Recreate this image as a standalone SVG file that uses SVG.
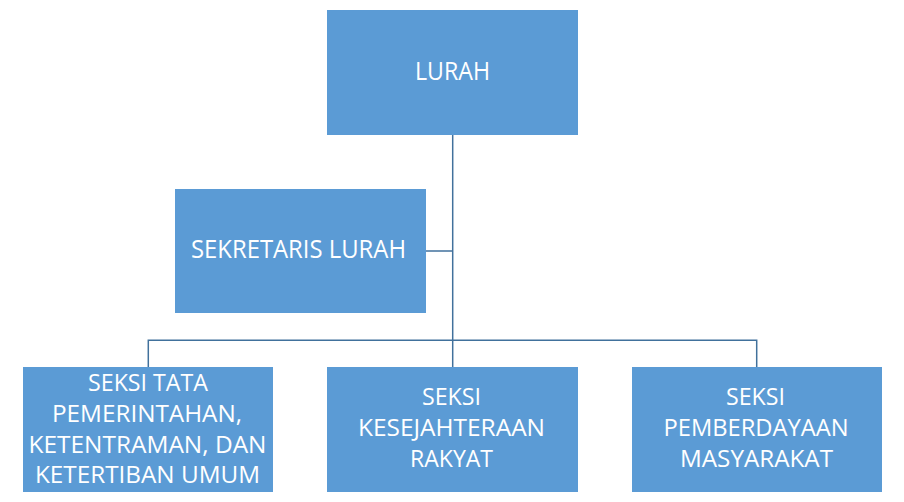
<svg xmlns="http://www.w3.org/2000/svg" width="904" height="502" viewBox="0 0 904 502">
<style>
.box{fill:#5B9BD5;}
.t{fill:#ffffff;font-family:"Open Sans","Liberation Sans",sans-serif;font-size:24px;text-anchor:middle;}
.c{stroke:#41719C;stroke-width:1.5;fill:none;}
</style>
<rect width="904" height="502" fill="#ffffff"/>
<g id="connectors">
<path class="c" d="M452.7 135 V367"/>
<path class="c" d="M426 251 H452.7"/>
<path class="c" d="M148.3 367 V340.3 H756.7 V367"/>
</g>
<g id="lurah">
<rect class="box" x="327" y="10" width="251" height="125"/>
<text class="t" x="452.5" y="80" textLength="75" lengthAdjust="spacingAndGlyphs" style="font-size:25px">LURAH</text>
</g>
<g id="sekretaris">
<rect class="box" x="175" y="189" width="251" height="124"/>
<text class="t" x="298.5" y="258" textLength="215" lengthAdjust="spacingAndGlyphs" style="font-size:25px">SEKRETARIS LURAH</text>
</g>
<g id="seksi-tata">
<rect class="box" x="23" y="367" width="250" height="125"/>
<text class="t" x="148" y="391" textLength="120" lengthAdjust="spacingAndGlyphs">SEKSI TATA</text>
<text class="t" x="147" y="422" textLength="190" lengthAdjust="spacingAndGlyphs">PEMERINTAHAN,</text>
<text class="t" x="147.5" y="453" textLength="238" lengthAdjust="spacingAndGlyphs">KETENTRAMAN, DAN</text>
<text class="t" x="147.5" y="483" textLength="225" lengthAdjust="spacingAndGlyphs">KETERTIBAN UMUM</text>
</g>
<g id="seksi-kesejahteraan">
<rect class="box" x="327" y="367" width="251" height="125"/>
<text class="t" x="451.5" y="405" textLength="59" lengthAdjust="spacingAndGlyphs">SEKSI</text>
<text class="t" x="451.5" y="436" textLength="187" lengthAdjust="spacingAndGlyphs">KESEJAHTERAAN</text>
<text class="t" x="451.5" y="467" textLength="83" lengthAdjust="spacingAndGlyphs">RAKYAT</text>
</g>
<g id="seksi-pemberdayaan">
<rect class="box" x="632" y="367" width="250" height="125"/>
<text class="t" x="755.5" y="405" textLength="59" lengthAdjust="spacingAndGlyphs">SEKSI</text>
<text class="t" x="756" y="436" textLength="185" lengthAdjust="spacingAndGlyphs">PEMBERDAYAAN</text>
<text class="t" x="756.5" y="467" textLength="153" lengthAdjust="spacingAndGlyphs">MASYARAKAT</text>
</g>
</svg>
